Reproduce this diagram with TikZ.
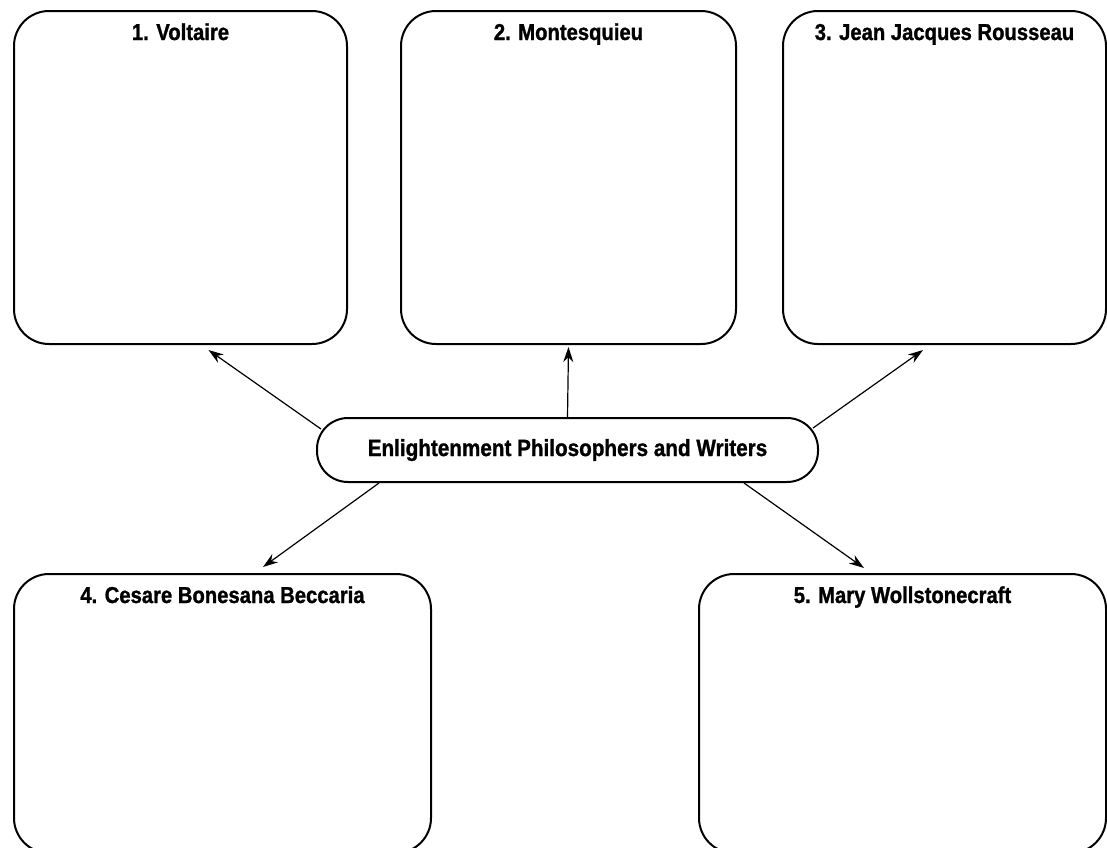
\documentclass[tikz,border=0pt]{standalone}
\usepackage{fontspec}
\setmainfont{Liberation Sans}[FakeStretch=0.88,BoldFeatures={FakeBold=1.2}]
\usetikzlibrary{arrows.meta}
\tikzset{
	box/.style={draw, line width=2pt, rounded corners=35pt, anchor=north west, inner sep=0pt},
	title/.style={anchor=base, font=\fontsize{23}{27}\selectfont\bfseries},
	hub/.style={draw, line width=2pt, rounded corners=31pt, minimum width=501pt,
		minimum height=64pt, inner sep=0pt, font=\fontsize{23.5}{27}\selectfont\bfseries},
	link/.style={-{Stealth[length=15pt,width=10pt]}, line width=1.2pt}
}
\begin{document}
\begin{tikzpicture}[x=1pt,y=-1pt]
	\useasboundingbox (0,0) rectangle (1107,847);
	%kaesten oben
	\node[box, minimum width=333pt, minimum height=333pt] (voltaire) at (13,10) {};
	\node[box, minimum width=335pt, minimum height=333pt] (montesquieu) at (400,10) {};
	\node[box, minimum width=323pt, minimum height=333pt] (rousseau) at (782,10) {};
	%kaesten unten
	\node[box, minimum width=417pt, minimum height=279pt] (beccaria) at (13,573) {};
	\node[box, minimum width=407pt, minimum height=279pt] (wollstonecraft) at (698,573) {};
	%titel
	\node[title] (voltaire-t) at ([shift={(0,30)}]voltaire.north) {1. Voltaire};
	\node[title] (montesquieu-t) at ([shift={(0,30)}]montesquieu.north) {2. Montesquieu};
	\node[title] (rousseau-t) at ([shift={(0,30)}]rousseau.north) {3. Jean Jacques Rousseau};
	\node[title] (beccaria-t) at ([shift={(0,30)}]beccaria.north) {4. Cesare Bonesana Beccaria};
	\node[title] (wollstonecraft-t) at ([shift={(0,30)}]wollstonecraft.north) {5. Mary Wollstonecraft};
	%mitte
	\node[hub] (hub) at (567.5,450) {Enlightenment Philosophers and Writers};
	%pfeile
	\draw[link] ([shift={(5,12)}]hub.north west) -- ([shift={(28,5)}]voltaire.south);
	\draw[link] (hub.north) -- ([shift={(0,2)}]montesquieu.south);
	\draw[link] ([shift={(-6,11)}]hub.north east) -- ([shift={(-21.5,5)}]rousseau.south);
	\draw[link] ([shift={(63,0)}]hub.south west) -- ([shift={(40.5,-6)}]beccaria.north);
	\draw[link] ([shift={(-75,0)}]hub.south east) -- ([shift={(-38.5,-5)}]wollstonecraft.north);
\end{tikzpicture}
\end{document}
